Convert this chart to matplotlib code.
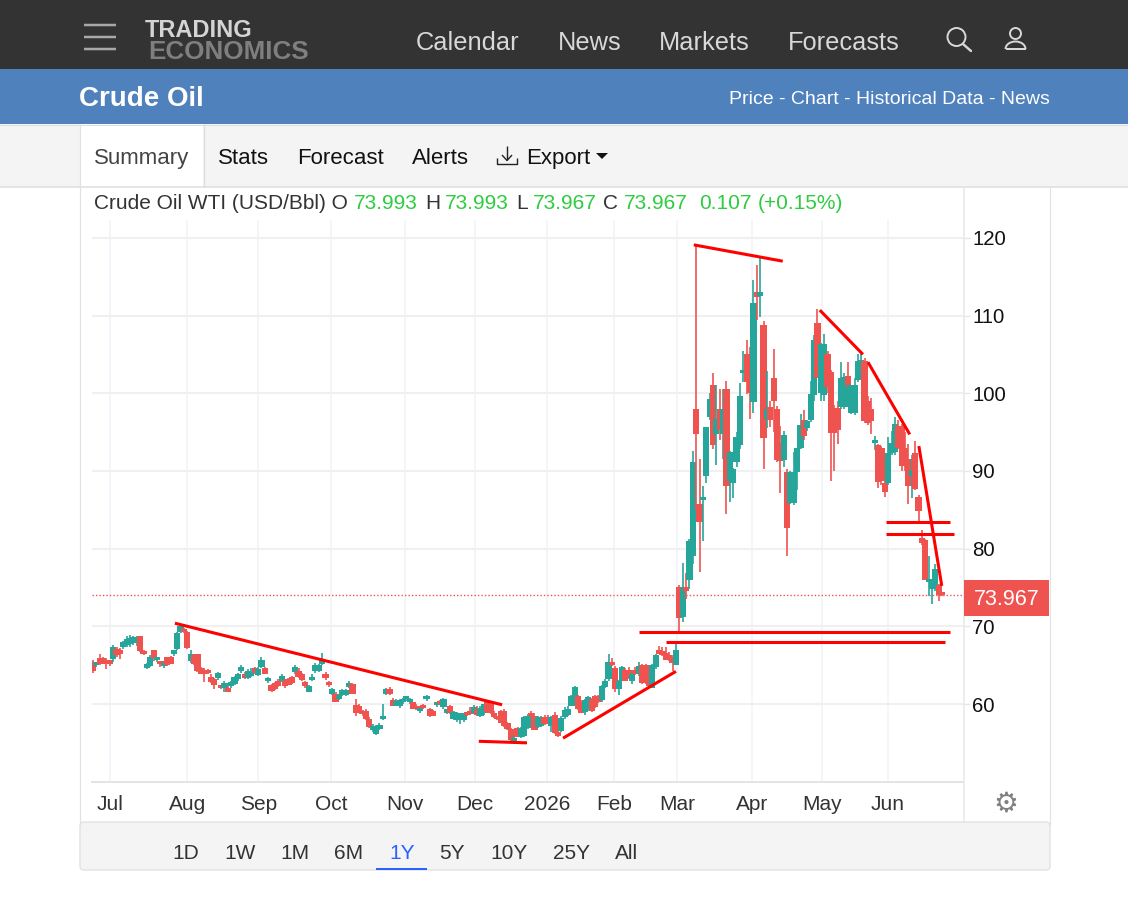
import matplotlib
matplotlib.use("Agg")
import matplotlib.pyplot as plt
from matplotlib.patches import Rectangle, Circle, Arc, FancyBboxPatch, Polygon

plt.rcParams['font.family'] = ['Liberation Sans', 'DejaVu Sans']

# =========================
# 1. Data (daily OHLC)
# =========================
opens = [
    65.4,65.0,65.9,65.9,65.6,65.4,65.8,67.1,67.0,67.4,
    67.6,67.7,67.8,67.8,68.7,66.6,64.6,64.9,66.9,65.6,
    65.3,64.9,66.0,66.1,66.5,67.1,69.3,69.6,69.3,65.5,
    66.3,66.4,64.6,64.4,64.2,63.5,63.2,63.4,62.1,62.0,
    62.1,62.3,62.6,63.2,64.2,63.9,63.3,63.6,64.6,63.7,
    64.8,64.6,62.9,62.4,62.7,63.0,63.0,63.0,63.2,63.5,
    64.1,64.3,63.8,62.8,61.6,63.1,64.2,64.2,65.2,63.9,
    62.7,61.3,61.3,60.7,61.1,61.2,62.2,62.6,59.9,59.8,
    59.0,59.1,58.1,56.6,56.2,56.8,58.1,61.3,61.9,60.5,
    59.8,59.7,60.3,60.6,60.3,60.2,59.8,59.1,59.9,60.6,
    59.4,59.1,59.9,60.1,59.6,58.9,59.8,58.1,57.9,58.0,
    58.0,58.9,59.0,58.8,59.4,58.5,58.8,60.2,60.0,58.9,
    58.3,59.1,59.1,57.6,56.8,55.0,56.9,55.8,55.9,56.9,
    58.7,58.5,57.0,57.2,58.3,58.3,57.2,58.6,56.4,56.5,
    58.3,58.6,59.8,59.9,61.0,60.3,59.0,59.3,60.6,61.0,
    61.0,60.5,62.2,63.2,65.4,64.6,61.9,63.0,64.4,64.4,
    63.0,64.4,63.8,65.0,65.0,63.5,62.0,64.7,66.9,66.8,
    66.6,66.3,66.1,65.0,75.0,71.2,74.8,76.0,79.0,98.0,
    85.8,86.2,89.3,97.0,101.0,94.7,98.0,94.8,100.6,88.7,
    88.5,91.2,93.3,102.6,105.0,105.0,98.9,113.0,112.5,108.8,
    96.7,98.2,102.0,98.0,93.6,91.4,89.9,85.9,85.9,89.9,
    93.0,96.5,95.5,96.6,99.8,109.1,100.0,99.8,105.0,102.7,
    98.1,98.1,98.2,98.2,102.2,97.5,97.5,101.7,103.5,104.1,
    99.0,98.0,93.6,93.4,93.0,88.5,88.4,92.3,92.4,95.8,
    95.8,93.0,91.5,89.4,92.3,86.7,81.4,81.1,75.7,74.8,
    74.8,75.3,73.993,
]
highs = [
    65.6,65.3,66.4,66.1,65.9,65.6,67.6,67.3,67.2,68.1,
    68.7,68.9,68.8,68.8,68.8,66.9,65.3,66.3,67.0,66.0,
    65.5,65.4,66.1,66.2,66.9,69.3,70.3,69.8,69.4,67.0,
    66.5,66.5,64.8,64.6,64.5,63.8,63.4,64.1,62.4,62.9,
    62.3,63.0,63.6,64.0,65.0,64.1,64.5,64.6,64.8,64.7,
    66.0,64.8,63.5,62.6,62.8,63.2,63.9,63.2,63.4,63.6,
    65.0,64.6,64.0,63.0,62.5,63.8,65.3,65.2,66.6,64.1,
    62.9,62.0,61.5,61.1,61.9,61.9,63.0,62.7,60.6,60.0,
    59.2,59.3,58.3,57.4,57.3,57.6,60.0,62.0,62.2,60.8,
    60.6,60.7,60.8,61.0,60.8,60.3,60.0,59.5,60.0,61.2,
    59.5,59.2,60.3,60.5,60.8,59.4,59.9,59.1,59.0,58.9,
    58.9,59.0,59.6,59.9,59.8,59.8,60.0,60.4,60.1,59.1,
    58.5,59.2,59.3,57.7,56.9,56.0,57.0,57.0,58.4,58.7,
    59.1,58.9,58.5,58.5,58.6,58.6,58.5,59.0,56.6,58.5,
    59.6,59.8,61.2,62.3,61.1,60.5,60.7,61.0,60.8,61.2,
    61.2,62.4,63.2,66.5,65.9,64.9,63.1,64.9,64.6,64.7,
    64.1,64.8,65.4,65.2,65.2,63.6,65.1,66.5,67.5,67.3,
    67.4,66.7,66.3,67.7,75.3,78.1,76.8,81.2,92.6,119.1,
    91.5,88.0,95.7,100.0,102.6,101.0,100.6,100.5,101.6,92.6,
    90.4,95.0,101.3,105.5,106.9,106.0,114.6,116.5,117.5,109.3,
    102.8,99.0,105.7,98.3,95.8,95.1,90.2,90.0,92.5,93.0,
    97.3,97.8,96.5,101.6,107.5,110.9,106.5,107.6,105.5,103.0,
    98.5,99.0,104.0,102.6,104.0,101.0,102.0,105.0,105.0,104.5,
    99.7,99.4,94.5,93.5,93.2,88.7,94.4,95.2,96.9,96.6,
    96.0,95.0,93.5,92.0,93.8,86.9,82.4,81.2,79.0,75.7,
    78.0,75.4,74.2,
]
lows = [
    64.0,64.7,65.0,65.1,64.5,64.9,65.4,66.0,65.8,67.1,
    67.3,67.4,67.6,67.5,66.7,66.3,64.5,64.7,65.5,65.4,
    64.8,64.6,64.9,65.1,66.2,66.9,69.1,69.2,67.1,65.3,
    65.0,64.1,63.8,62.8,63.9,62.7,61.9,63.1,61.9,61.6,
    61.6,62.1,62.4,63.0,64.0,63.2,63.2,63.5,63.9,63.6,
    64.6,63.8,62.7,61.6,61.8,62.2,62.8,62.1,62.4,62.6,
    63.9,63.4,63.0,62.1,61.5,62.9,64.0,64.1,65.0,63.1,
    62.2,61.1,60.2,60.5,61.0,61.0,62.1,61.3,58.4,58.9,
    58.4,58.0,56.9,56.4,56.0,56.6,58.0,61.1,61.2,59.7,
    59.7,59.5,60.0,60.4,60.0,59.3,59.2,58.9,59.4,60.4,
    58.3,58.4,59.6,59.9,59.4,58.7,58.7,58.0,57.7,57.4,
    57.7,58.5,58.6,58.7,58.5,58.3,58.6,58.9,58.7,58.2,
    58.0,57.5,57.1,56.7,55.3,54.9,55.7,55.6,55.7,56.8,
    58.3,56.6,56.9,57.0,57.3,57.5,56.4,56.2,55.8,56.4,
    58.1,58.4,59.7,59.8,59.2,58.8,58.6,59.1,59.0,59.5,
    60.1,60.3,62.0,63.0,64.9,61.6,61.2,62.9,62.9,63.2,
    62.6,63.7,63.6,62.6,62.6,62.2,62.0,64.5,66.4,66.2,
    65.6,65.5,64.2,65.0,69.4,70.6,73.5,74.8,78.0,85.0,
    77.0,81.0,88.5,96.5,92.8,90.8,94.0,91.5,84.4,86.0,
    86.5,90.5,92.8,101.5,99.9,96.7,97.5,109.4,109.8,90.2,
    95.5,95.6,95.0,91.2,87.2,90.5,79.0,85.7,85.6,87.5,
    92.8,94.0,95.2,96.3,99.0,101.9,99.0,99.0,100.0,88.7,
    90.0,93.5,98.0,98.0,100.7,97.3,97.2,101.4,103.0,96.2,
    95.9,94.8,92.7,87.8,88.2,86.7,88.2,92.0,92.1,92.8,
    90.0,90.0,85.8,86.5,87.5,83.5,80.5,75.9,73.9,72.9,
    74.5,73.2,73.9,
]
closes = [
    64.3,65.2,65.1,65.2,65.1,65.2,67.4,66.3,66.4,68.0,
    68.4,68.5,68.6,68.6,66.8,66.4,65.2,66.1,65.9,65.9,
    65.1,65.3,65.0,65.1,66.7,69.2,70.0,69.3,67.2,66.4,
    65.1,64.2,63.9,63.9,64.0,62.8,62.4,64.0,62.0,62.7,
    61.6,62.8,63.5,63.8,64.8,63.3,64.2,64.1,64.0,64.5,
    65.7,63.9,63.4,61.7,61.9,62.3,63.6,62.3,62.5,62.7,
    64.7,63.5,63.1,62.3,62.3,63.5,65.0,65.0,65.6,63.3,
    62.4,61.9,60.3,61.0,61.8,61.8,62.7,61.3,58.8,59.0,
    58.7,58.1,57.0,57.2,57.1,57.3,58.3,61.9,61.3,59.8,
    60.4,60.5,60.6,60.8,60.6,59.4,59.4,59.4,59.5,60.9,
    58.4,58.5,60.0,60.0,60.6,59.2,58.8,59.0,58.9,58.8,
    58.8,58.6,58.7,59.6,58.6,59.5,60.0,59.0,58.8,58.3,
    58.1,57.6,57.2,56.8,55.4,55.6,55.8,56.9,58.3,58.5,
    58.4,56.7,58.3,58.3,57.4,57.6,58.3,56.3,55.9,58.2,
    59.2,59.4,61.0,62.2,59.3,58.9,60.5,60.9,59.1,59.6,
    60.2,62.3,63.0,65.4,65.0,61.9,63.0,64.8,63.0,63.3,
    63.8,63.8,64.9,62.7,62.7,62.3,65.0,66.3,66.5,66.3,
    65.7,65.6,65.3,67.0,71.1,75.0,74.6,81.0,91.1,94.7,
    83.4,86.6,95.7,99.3,93.4,96.7,95.3,98.0,88.0,92.4,
    90.3,94.4,99.6,102.9,101.4,100.0,111.6,112.4,113.0,94.3,
    98.0,96.6,99.0,91.4,91.3,94.6,82.7,89.9,89.9,93.0,
    95.9,94.5,96.4,99.9,106.8,101.9,106.4,106.4,100.8,94.9,
    94.9,95.3,101.9,102.1,101.0,101.0,101.1,104.2,104.3,96.4,
    96.2,96.4,93.9,88.6,88.7,87.3,92.3,93.6,96.0,93.0,
    90.6,90.6,88.1,90.1,87.7,84.9,80.7,76.0,76.1,75.7,
    77.4,74.0,73.967,
]
last_price = 73.967

# hand drawn trend lines: start index, start price, end index, end price
trend_start_x = [24.3, 114.5, 139.5, 162.0, 170.0, 178.3, 215.7, 230.0, 245.1, 235.3, 235.3]
trend_start_y = [70.4, 55.2, 55.6, 69.3, 68.0, 119.1, 110.7, 104.0, 93.2, 83.4, 81.9]
trend_end_x = [121.4, 128.8, 173.0, 254.3, 252.8, 204.7, 228.5, 242.4, 251.9, 254.3, 255.5]
trend_end_y = [59.9, 55.0, 64.2, 69.3, 68.0, 117.0, 105.0, 94.7, 75.2, 83.4, 81.9]

month_pos = [5, 28, 49, 70.6, 92.6, 113.4, 134.7, 154.6, 173.3, 195.5, 216.3, 235.9]
month_labels = ['Jul', 'Aug', 'Sep', 'Oct', 'Nov', 'Dec', '2026', 'Feb', 'Mar', 'Apr', 'May', 'Jun']
price_ticks = [60, 70, 80, 90, 100, 110, 120]

nav_items = ['Calendar', 'News', 'Markets', 'Forecasts']
nav_x = [416, 558, 659, 788]
tab_items = ['Stats', 'Forecast', 'Alerts', 'Export']
tab_x = [218, 297, 412, 526]
range_items = ['1D', '1W', '1M', '6M', '1Y', '5Y', '10Y', '25Y', 'All']
range_x = [186, 240, 295, 349, 402, 452, 509, 571, 627]

# title strip, pieces with their colour
legend_text = ['Crude Oil WTI (USD/Bbl) O', '73.993', 'H', '73.993', 'L', '73.967', 'C', '73.967', '0.107', '(+0.15%)']
legend_x = [94, 354, 425, 445, 516, 533, 603, 624, 699, 758]

RED = '#ef5350'
TEAL = '#26a69a'
GREEN = '#2ecc40'
INK = '#333333'

# =========================
# 2. Page, drawn in pixels
# =========================
W, H = 1128, 900
fig = plt.figure(figsize=(W / 100, H / 100), dpi=100, facecolor='white')
page = fig.add_axes([0, 0, 1, 1])
page.set_xlim(0, W)
page.set_ylim(H, 0)
page.axis('off')


def box(x0, y0, x1, y1, color, **kw):
    page.add_patch(Rectangle((x0, y0), x1 - x0, y1 - y0, facecolor=color, edgecolor='none', **kw))


def line(xs, ys, color, lw=1.0, **kw):
    page.plot(xs, ys, color=color, lw=lw * 0.72, solid_capstyle=kw.pop('cap', 'butt'), **kw)


box(0, 0, W, 69, '#333333')
box(0, 69, W, 124, '#4f81bd')
box(0, 124, W, 187, '#f4f4f4')
line([0, W], [187, 187], '#dddddd', 1.5)
line([0, W], [124.5, 124.5], '#d5dde8', 1)
box(80, 124, 203, 187, 'white')
line([80, 80], [124, 825], '#e2e2e2', 1.2)
line([203.5, 203.5], [124, 187], '#dddddd', 1.2)
line([1050, 1050], [187, 825], '#e2e2e2', 1.2)
page.add_patch(FancyBboxPatch((80, 822), 970, 48, boxstyle='round,pad=0,rounding_size=4',
                              facecolor='#f4f4f4', edgecolor='#e2e2e2', lw=1))
line([963.5, 963.5], [187, 822], '#e8e8e8', 1.5)

# hamburger and logo
for yy in [25, 37, 49]:
    line([84, 116], [yy, yy], '#a8a8a8', 2.5)
page.text(145, 37, 'TRADING', color='#d4d4d4', fontsize=17, fontweight='bold', va='baseline')
page.text(148, 59, 'ECONOMICS', color='#7f7f7f', fontsize=18.7, fontweight='bold', va='baseline')

for label, xx in zip(nav_items, nav_x):
    page.text(xx, 50, label, color='#d8d8d8', fontsize=18.3, va='baseline')

# search and user icons
page.add_patch(Circle((956.5, 37), 9, facecolor='none', edgecolor='#d8d8d8', lw=1.4))
line([963, 971], [44, 51], '#d8d8d8', 2.4, cap='round')
page.add_patch(Circle((1015.5, 33.5), 5.5, facecolor='none', edgecolor='#d8d8d8', lw=1.4))
page.add_patch(Arc((1015.5, 49), 20, 15, theta1=180, theta2=360, edgecolor='#d8d8d8', lw=1.4))
line([1005.5, 1025.5], [49, 49], '#d8d8d8', 2)

page.text(79, 106, 'Crude Oil', color='white', fontsize=20, fontweight='bold', va='baseline')
page.text(1050, 104, 'Price - Chart - Historical Data - News', color='white', fontsize=14, ha='right', va='baseline')

page.text(94, 164, 'Summary', color='#444444', fontsize=16, va='baseline')
for label, xx in zip(tab_items, tab_x):
    page.text(xx, 164, label, color='#111111', fontsize=16, va='baseline')

# export icon and caret
line([507, 507], [146, 160], '#222222', 1.4)
line([502, 507, 512], [155, 160.5, 155], '#222222', 1.4)
line([497, 497, 517, 517], [158, 164, 164, 158], '#222222', 1.4)
page.add_patch(Polygon([[596, 153], [608, 153], [602, 159]], facecolor='#111111', edgecolor='none'))

for label, xx, in zip(legend_text, legend_x):
    is_value = label[0].isdigit() or label[0] == '('
    page.text(xx, 209, label, color=GREEN if is_value else INK, fontsize=15, va='baseline')

for label, xx in zip(range_items, range_x):
    page.text(xx, 859, label, color='#2962ff' if label == '1Y' else INK, fontsize=15, ha='center', va='baseline')
box(376, 868, 427, 870, '#2962ff')

# gear, bottom right of the chart
page.text(1006, 804, '\u2699', color='#808080', fontsize=20, ha='center', va='center', family='DejaVu Sans')

# =========================
# 3. Candles
# =========================
# axes box: x 92..963 px, y 220..782 px
ax = fig.add_axes([92 / W, 1 - 782 / H, (963 - 92) / W, (782 - 220) / H], zorder=2)
ax.patch.set_alpha(0)
ax.set_xlim(-0.3, 258.2)
ax.set_ylim(49.96, 122.3)

ax.set_xticks(month_pos, month_labels)
ax.set_yticks(price_ticks)
ax.yaxis.tick_right()
ax.grid(True, axis='y', color='#f0f0f0', lw=1.5)
ax.grid(True, axis='x', color='#eff3f8', lw=1.1)
ax.set_axisbelow(True)
ax.tick_params(axis='x', length=0, pad=9, labelsize=15, labelcolor=INK)
ax.tick_params(axis='y', length=5, width=1, color='#e8e8e8', pad=1.5, labelsize=14.7, labelcolor='#111111')
for name in ['top', 'left', 'right']:
    ax.spines[name].set_visible(False)
ax.spines['bottom'].set_color('#e4e4e4')
ax.spines['bottom'].set_linewidth(1.4)

for i, (o, h, l, c) in enumerate(zip(opens, highs, lows, closes)):
    col = TEAL if c >= o else RED
    ax.vlines(i, l, h, color=col, lw=1.2, zorder=3)
    ax.bar(i, max(abs(c - o), 0.4), bottom=min(o, c), width=1.85, color=col, linewidth=0, zorder=3)

ax.axhline(last_price, color=RED, lw=1, ls=(0, (1, 1.5)), zorder=2.5)

for x0, y0, x1, y1 in zip(trend_start_x, trend_start_y, trend_end_x, trend_end_y):
    ax.plot([x0, x1], [y0, y1], color='#ff0000', lw=2.2, solid_capstyle='butt', zorder=4)

# price tag sits over the price scale
tag = fig.add_axes([964 / W, 1 - 616 / H, 85 / W, 36 / H], zorder=3)
tag.set_facecolor(RED)
tag.set_xticks([])
tag.set_yticks([])
for s in tag.spines.values():
    s.set_visible(False)
tag.text(0.5, 0.47, '%.3f' % last_price, color='white', fontsize=15.5, ha='center', va='center', transform=tag.transAxes)

fig.savefig('out.png', dpi=100)
